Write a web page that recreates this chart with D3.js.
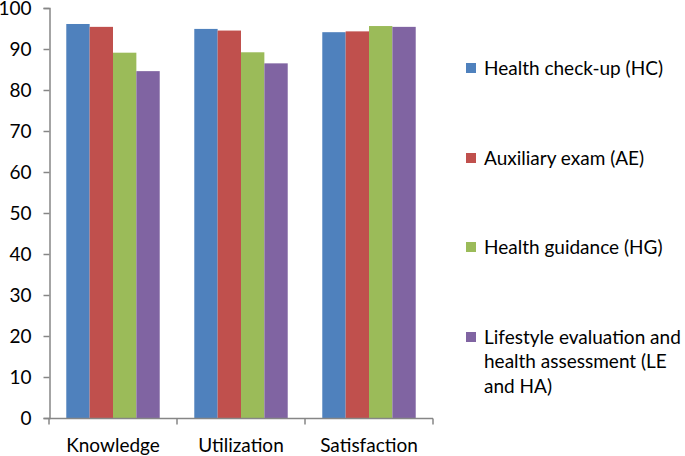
<!DOCTYPE html>
<html><head><meta charset="utf-8">
<script src="https://cdn.jsdelivr.net/npm/d3@7"></script>
<style>body{margin:0;background:#fff}svg{display:block}text{font-family:Lato,"Open Sans",sans-serif;fill:#000}</style>
</head><body>
<svg id="c" width="685" height="456"></svg>
<script>
const categories = ["Knowledge", "Utilization", "Satisfaction"];
const seriesNames = ["Health check-up (HC)", "Auxiliary exam (AE)", "Health guidance (HG)", "Lifestyle evaluation and health assessment (LE and HA)"];
const legendLines = [["Health check-up (HC)"], ["Auxiliary exam (AE)"], ["Health guidance (HG)"], ["Lifestyle evaluation and", "health assessment (LE", "and HA)"]];
const hc = [96.1, 94.9, 94.1];
const ae = [95.4, 94.5, 94.3];
const hg = [89.1, 89.2, 95.6];
const leha = [84.6, 86.5, 95.4];
const yTicks = [0, 10, 20, 30, 40, 50, 60, 70, 80, 90, 100];
const colors = ["#4F81BD", "#C0504D", "#9BBB59", "#8064A2"];
const series = [hc, ae, hg, leha];

const svg = d3.select("#c");
const x0 = d3.scaleBand().domain(categories).range([49, 433]).paddingInner(0.27).paddingOuter(0.135);
const x1 = d3.scaleBand().domain(d3.range(series.length)).range([0, x0.bandwidth()]);
const y = d3.scaleLinear().domain([0, 100]).range([418, 8]);

categories.forEach((c, ci) => {
  svg.append("g").selectAll("rect").data(series.map((s, si) => ({si, v: s[ci]}))).join("rect")
    .attr("x", d => x0(c) + x1(d.si))
    .attr("width", x1.bandwidth())
    .attr("y", d => y(d.v))
    .attr("height", d => y(0) - y(d.v))
    .attr("fill", d => colors[d.si]);
});

const ya = svg.append("g").attr("transform", "translate(49.5,0)")
  .call(d3.axisLeft(y).tickValues(yTicks).tickSize(6).tickPadding(12).tickFormat(d3.format("d")));
ya.select(".domain").attr("stroke", "#868686").attr("stroke-width", 1.5);
ya.selectAll(".tick line").attr("stroke", "#868686").attr("stroke-width", 1.5);
ya.selectAll(".tick text").attr("font-size", 19).attr("font-family", "Lato,sans-serif").attr("fill", "#000");

const xa = svg.append("g").attr("transform", "translate(0,418.5)");
xa.append("line").attr("x1", 49).attr("x2", 433).attr("stroke", "#868686").attr("stroke-width", 1.5);
const seps = categories.map(c => x0(c) - x0.step() * x0.paddingInner() / 2).concat([433]);
seps[0] = 49;
xa.selectAll("line.sep").data(seps).join("line").attr("class", "sep")
  .attr("x1", d => d).attr("x2", d => d).attr("y1", 0).attr("y2", 6)
  .attr("stroke", "#868686").attr("stroke-width", 1.5);
xa.selectAll("text").data(categories).join("text")
  .attr("x", d => x0(d) + x0.bandwidth() / 2).attr("y", 33)
  .attr("text-anchor", "middle").attr("font-size", 19).text(d => d);

const legY = [68, 158, 247, 337];
const lg = svg.append("g");
legendLines.forEach((lines, i) => {
  lg.append("rect").attr("x", 466).attr("y", legY[i] - 5).attr("width", 10).attr("height", 10).attr("fill", colors[i]);
  lines.forEach((t, li) => {
    lg.append("text").attr("x", 484).attr("y", legY[i] + li * 24.5).attr("dy", "0.35em")
      .attr("font-size", 19).text(t);
  });
});
</script>
</body></html>
